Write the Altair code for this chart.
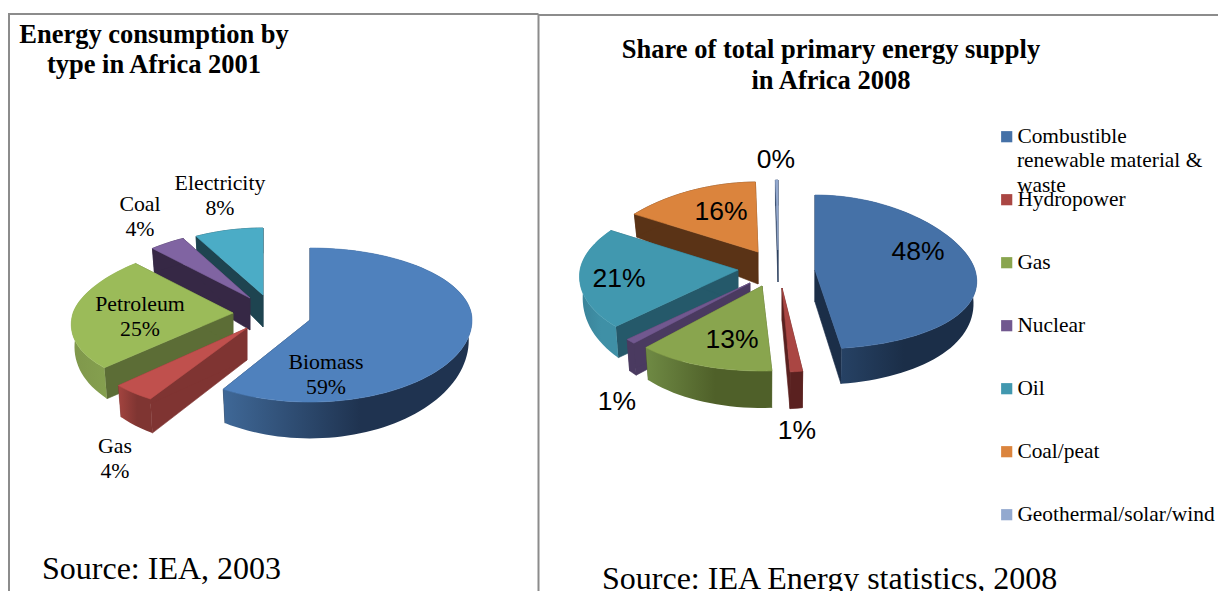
import math
import altair as alt
import pandas as pd

# ---- values
left_names = ["Biomass", "Gas", "Petroleum", "Coal", "Electricity"]
left_shares = [59, 4, 25, 4, 8]
left_colors = ["#4f81bd", "#c0504d", "#9bbb59", "#8064a2", "#4bacc6"]

right_names = ["Combustible renewable material & waste", "Hydropower", "Gas", "Nuclear",
               "Oil", "Coal/peat", "Geothermal/solar/wind"]
right_shares = [47.7, 1.4, 13, 1, 21, 15.6, 0.3]
right_colors = ["#4571a7", "#aa4643", "#89a54e", "#71588f", "#4198af", "#db843d", "#93a9cf"]

SERIF = "Liberation Serif"
SANS = "Liberation Sans"

# ---- 3-D look of each slice: exploded apex, wall shades (cut, wall from, wall to)
left_look = [
    dict(c=(310, 320), a=162, k=0.0, bt=72, bf=82, cut="#1f3450", wall=("#3f6897", "#1f3350")),
    dict(c=(247, 328), a=160, k=0.15, bt=68, bf=84, cut="#7f3432", wall=("#a3443f", "#7f3532")),
    dict(c=(233, 313), a=160, k=0.15, bt=68, bf=80, cut="#5c6d36", wall=("#7f974b", "#85a04f")),
    dict(c=(250, 298), a=160, k=0.15, bt=68, bf=82, cut="#362845", wall=("#362845", "#362845")),
    dict(c=(263, 295), a=160, k=0.15, bt=67, bf=82, cut="#1e4450", wall=("#1e4450", "#1e4450")),
]
right_look = [
    dict(c=(815, 270), a=160, k=0.15, bt=75, bf=79, cut="#1b2e48", wall=("#2b4a70", "#1b2e48")),
    dict(c=(782, 288), a=125, k=0.15, bt=73, bf=84, cut="#5a2120", wall=("#5a2120", "#5a2120")),
    dict(c=(762, 286), a=152, k=0.15, bt=73, bf=85, cut="#4f6029", wall=("#6f8a44", "#4f6029")),
    dict(c=(750, 283), a=152, k=0.15, bt=73, bf=83, cut="#4a3a60", wall=("#4a3a60", "#4a3a60")),
    dict(c=(738, 270), a=158, k=0.08, bt=73, bf=83, cut="#25596a", wall=("#3a8298", "#3f90a6")),
    dict(c=(758, 252), a=160, k=0.15, bt=70, bf=80, cut="#5a3316", wall=("#5a3316", "#5a3316")),
    dict(c=(778, 250), a=160, k=0.15, bt=70, bf=80, cut="#2c4060", wall=("#2c4060", "#2c4060")),
]

W, H = 1210, 583
xs = alt.Scale(domain=[8, 8 + W], range=[0, W])
ys = alt.Scale(domain=[8, 8 + H], range=[0, H])
X = alt.X("x:Q", scale=xs, axis=None)
Y = alt.Y("y:Q", scale=ys, axis=None)


def pt(s, th, bottom=False):
    u, v = math.sin(th), -math.cos(th)
    ae = s["a"] * (1 + s["k"] * v)
    b = s["bf"] if v > 0 else s["bt"]
    cx, cy = s["c"]
    if not bottom:
        return cx + ae * u, cy + b * v
    b2 = b * 1.2 if v > 0 else b * 0.92
    return cx + 0.98 * ae * u, cy + 20 + b2 * v


def shape(points, fill, extra=None):
    pts = list(points) + [points[0]]
    df = pd.DataFrame({"x": [p[0] for p in pts], "y": [p[1] for p in pts], "i": range(len(pts))})
    stroke = fill if isinstance(fill, str) else None
    props = dict(fill=fill, strokeWidth=0.6 if stroke else 0)
    if stroke:
        props["stroke"] = stroke
    enc = dict(x=X, y=Y, order=alt.Order("i:Q"))
    if extra is not None:
        df["name"] = extra[0]
        enc["fill"] = extra[1]
        props.pop("fill")
    return alt.Chart(df).mark_line(**props).encode(**enc)


def pie(shares, looks, names=None, fill_enc=None, colors=None):
    total = sum(shares)
    run = 0.0
    items = []
    for i, (val, s) in enumerate(zip(shares, looks)):
        t0 = run / total * 2 * math.pi
        run += val
        t1 = run / total * 2 * math.pi
        mid = (t0 + t1) / 2
        items.append((s["c"][1] - math.cos(mid) * 60, i, t0, t1, s))
    layers = []
    for _, i, t0, t1, s in sorted(items, key=lambda r: r[0]):
        n = max(3, int((t1 - t0) / 0.04))
        ths = [t0 + (t1 - t0) * j / n for j in range(n + 1)]
        apex = tuple(s["c"])
        apex_low = (apex[0], apex[1] + 32)
        for th in (t0, t1):
            layers.append(shape([apex, pt(s, th), pt(s, th, True), apex_low], s["cut"]))
        top_arc = [pt(s, t) for t in ths]
        low_arc = [pt(s, t, True) for t in ths]
        wall = top_arc + low_arc[::-1]
        c0, c1 = s["wall"]
        if c0 == c1:
            wfill = c0
        else:
            wfill = alt.Gradient(gradient="linear", x1=0, x2=1, y1=0, y2=0,
                                 stops=[alt.GradientStop(color=c0, offset=0),
                                        alt.GradientStop(color=c1, offset=0.55),
                                        alt.GradientStop(color=c1, offset=1)])
        layers.append(shape(wall, wfill))
        face = [apex] + top_arc
        if fill_enc is not None:
            layers.append(shape(face, colors[i], extra=(names[i], fill_enc)))
        else:
            layers.append(shape(face, colors[i]))
    return layers


legend = alt.Legend(
    title=None, orient="none", legendX=988, legendY=118, symbolType="square", symbolSize=125,
    symbolStrokeWidth=0, labelFont=SERIF, labelFontSize=21.4, labelColor="#000000", labelOffset=0,
    rowPadding=40, labelLimit=300, symbolOpacity=1,
    labelExpr="datum.label == 'Combustible renewable material & waste' ? 'Combustible' : datum.label",
)
fill_enc = alt.Fill("name:N", scale=alt.Scale(domain=right_names, range=right_colors), legend=legend, sort=None)


def texts(rows, font, size, weight="normal", align="center"):
    df = pd.DataFrame(rows, columns=["t", "x", "y"])
    return alt.Chart(df).mark_text(font=font, fontSize=size, fontWeight=weight, align=align,
                                   baseline="middle", color="#000000", lineBreak="\n", lineHeight=24.5).encode(
        x=X, y=Y, text="t:N")


def borders():
    segs = pd.DataFrame([
        dict(x=9, x2=9, y=14, y2=591),
        dict(x=538.5, x2=538.5, y=14, y2=591),
        dict(x=8, x2=538.5, y=14, y2=14),
        dict(x=538.5, x2=1218, y=15, y2=15),
    ])
    return alt.Chart(segs).mark_rule(color="#8c8c8c", strokeWidth=2).encode(x=X, x2="x2:Q", y=Y, y2="y2:Q")


left_labels = [f"{n}\n{v}%" for n, v in zip(left_names, left_shares)]
right_labels = [f"{round(v)}%" for v in right_shares]

layers = [borders()]
layers += pie(left_shares, left_look, colors=left_colors)
layers += pie(right_shares, right_look, names=right_names, fill_enc=fill_enc, colors=right_colors)
layers += [
    texts([("Energy consumption by", 154, 35), ("type in Africa 2001", 154, 65),
           ("Share of total primary energy supply", 831, 50), ("in Africa 2008", 831, 81)],
          SERIF, 26.5, "bold"),
    texts([(left_labels[0], 326, 362), (left_labels[1], 115, 446), (left_labels[2], 140, 304),
           (left_labels[3], 140, 204), (left_labels[4], 220, 183)], SERIF, 21.8),
    texts([(right_labels[0], 918, 252), (right_labels[1], 797, 431), (right_labels[2], 732, 340),
           (right_labels[3], 617, 402), (right_labels[4], 619, 279), (right_labels[5], 721, 212),
           (right_labels[6], 776, 160)], SANS, 26.5),
    texts([("Source: IEA, 2003", 42, 569), ("Source: IEA Energy statistics, 2008", 602, 579)],
          SERIF, 32, align="left"),
    texts([("renewable material &", 1017, 161), ("waste", 1017, 186)], SERIF, 21.4, align="left"),
]

chart = alt.layer(*layers).properties(width=W, height=H, padding=0,
    autosize=alt.AutoSizeParams(type="none")).configure_view(stroke=None)
chart.save("out.html", embed_options={"renderer": "svg", "actions": False})
